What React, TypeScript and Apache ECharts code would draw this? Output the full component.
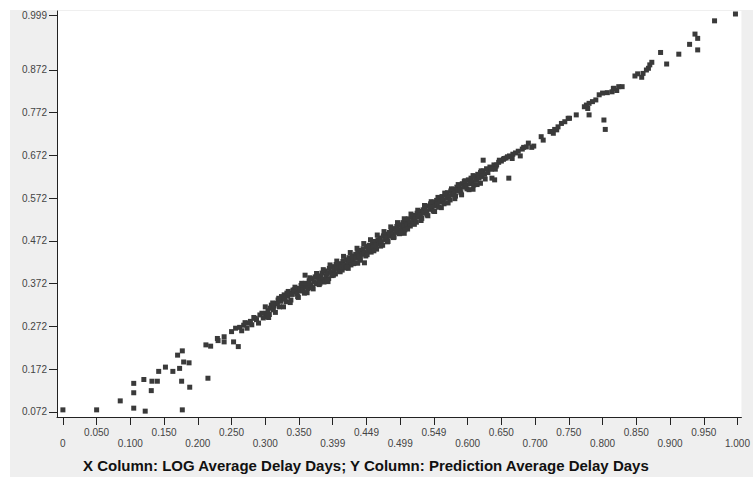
import React, { useEffect, useRef } from "react";
import * as echarts from "echarts";

const titleText = "X Column: LOG Average Delay Days; Y Column: Prediction Average Delay Days";

const xTickValues = [0, 0.05, 0.1, 0.15, 0.2, 0.25, 0.3, 0.35, 0.4, 0.45, 0.5, 0.55, 0.6, 0.65, 0.7, 0.75, 0.8, 0.85, 0.9, 0.95, 1.0];
const xTickLabels = ["0", "0.050", "0.100", "0.150", "0.200", "0.250", "0.300", "0.350", "0.399", "0.449", "0.499", "0.549", "0.600", "0.650", "0.700", "0.750", "0.800", "0.850", "0.900", "0.950", "1.000"];
const yTickValues = [0.072, 0.172, 0.272, 0.372, 0.472, 0.572, 0.672, 0.772, 0.872, 0.999];

const lowPoints: [number, number][] = [
  [0.000, 0.077], [0.050, 0.077], [0.085, 0.098], [0.105, 0.139], [0.105, 0.117], [0.105, 0.081],
  [0.120, 0.148], [0.122, 0.074], [0.132, 0.144], [0.131, 0.122], [0.140, 0.144], [0.142, 0.167],
  [0.152, 0.177], [0.163, 0.167], [0.170, 0.205], [0.173, 0.174], [0.177, 0.215], [0.179, 0.189],
  [0.176, 0.144], [0.177, 0.077], [0.187, 0.187], [0.188, 0.130], [0.212, 0.229], [0.219, 0.226],
  [0.215, 0.151], [0.229, 0.244], [0.230, 0.239], [0.239, 0.248], [0.239, 0.236], [0.250, 0.260],
  [0.253, 0.236], [0.260, 0.225], [0.256, 0.268], [0.268, 0.275], [0.273, 0.268], [0.275, 0.280],
  [0.285, 0.291], [0.290, 0.280], [0.292, 0.299], [0.301, 0.295], [0.301, 0.303], [0.307, 0.315],
  [0.312, 0.311], [0.309, 0.322], [0.316, 0.326], [0.321, 0.318], [0.319, 0.334], [0.326, 0.338],
  [0.331, 0.330], [0.328, 0.346], [0.336, 0.350], [0.338, 0.334], [0.341, 0.357], [0.345, 0.353],
  [0.348, 0.342], [0.350, 0.361], [0.355, 0.365], [0.358, 0.350], [0.359, 0.373],
  [0.262, 0.270], [0.265, 0.262], [0.270, 0.281], [0.278, 0.284], [0.280, 0.276], [0.283, 0.293],
  [0.287, 0.288], [0.295, 0.303], [0.297, 0.292], [0.304, 0.309], [0.306, 0.300], [0.313, 0.320],
  [0.318, 0.325], [0.323, 0.331], [0.324, 0.342], [0.329, 0.336], [0.333, 0.343], [0.334, 0.354],
  [0.340, 0.347], [0.343, 0.358], [0.347, 0.349], [0.351, 0.355], [0.353, 0.368], [0.356, 0.358],
  [0.360, 0.365],
];

const bandPoints: [number, number][] = [
  [0.361, 0.372], [0.363, 0.361], [0.365, 0.379], [0.367, 0.369], [0.369, 0.384], [0.370, 0.363],
  [0.372, 0.377], [0.374, 0.388], [0.375, 0.372], [0.377, 0.391], [0.379, 0.381], [0.380, 0.370],
  [0.382, 0.389], [0.384, 0.397], [0.385, 0.383], [0.387, 0.376], [0.389, 0.402], [0.390, 0.391],
  [0.392, 0.396], [0.394, 0.384], [0.395, 0.408], [0.397, 0.399], [0.399, 0.391], [0.400, 0.412],
  [0.402, 0.403], [0.404, 0.395], [0.405, 0.417], [0.407, 0.408], [0.409, 0.401], [0.410, 0.419],
  [0.412, 0.411], [0.414, 0.404], [0.415, 0.424], [0.417, 0.415], [0.419, 0.409], [0.420, 0.428],
  [0.422, 0.419], [0.424, 0.433], [0.425, 0.423], [0.427, 0.416], [0.429, 0.437], [0.430, 0.428],
  [0.432, 0.421], [0.434, 0.441], [0.435, 0.432], [0.437, 0.446], [0.439, 0.436], [0.440, 0.427],
  [0.442, 0.450], [0.444, 0.441], [0.445, 0.454], [0.447, 0.445], [0.449, 0.437], [0.450, 0.459],
  [0.452, 0.449], [0.454, 0.462], [0.455, 0.453], [0.457, 0.446], [0.459, 0.467], [0.460, 0.457],
  [0.462, 0.471], [0.464, 0.462], [0.465, 0.453], [0.467, 0.475], [0.469, 0.466], [0.470, 0.479],
  [0.472, 0.470], [0.474, 0.462], [0.475, 0.484], [0.477, 0.475], [0.479, 0.488], [0.480, 0.479],
  [0.482, 0.471], [0.484, 0.492], [0.485, 0.483], [0.487, 0.497], [0.489, 0.488], [0.490, 0.480],
  [0.492, 0.501], [0.494, 0.492], [0.495, 0.506], [0.497, 0.497], [0.499, 0.489], [0.500, 0.510],
  [0.502, 0.501], [0.504, 0.515], [0.505, 0.506], [0.507, 0.498], [0.509, 0.519], [0.510, 0.510],
  [0.512, 0.524], [0.514, 0.515], [0.515, 0.507], [0.517, 0.528], [0.519, 0.519], [0.520, 0.532],
  [0.522, 0.524], [0.524, 0.516], [0.525, 0.537], [0.527, 0.528], [0.529, 0.541], [0.530, 0.533],
  [0.532, 0.525], [0.534, 0.545], [0.535, 0.537], [0.537, 0.550], [0.539, 0.541], [0.540, 0.533],
  [0.542, 0.554], [0.544, 0.546], [0.545, 0.559], [0.547, 0.550], [0.549, 0.542], [0.550, 0.563],
  [0.552, 0.554], [0.554, 0.567], [0.555, 0.559], [0.557, 0.551], [0.559, 0.572], [0.560, 0.563],
  [0.562, 0.576], [0.564, 0.567], [0.565, 0.559], [0.567, 0.580], [0.569, 0.572], [0.570, 0.585],
  [0.572, 0.576], [0.574, 0.568], [0.575, 0.589], [0.577, 0.580], [0.579, 0.593], [0.580, 0.585],
  [0.582, 0.577], [0.584, 0.598], [0.585, 0.589], [0.587, 0.602], [0.589, 0.593], [0.590, 0.585],
  [0.592, 0.606], [0.594, 0.598], [0.595, 0.611], [0.597, 0.602], [0.599, 0.594], [0.601, 0.615],
  [0.603, 0.606], [0.605, 0.619], [0.607, 0.611], [0.609, 0.603], [0.611, 0.623], [0.613, 0.615],
  [0.615, 0.628], [0.617, 0.619], [0.619, 0.632], [0.621, 0.623], [0.623, 0.636], [0.625, 0.628],
  [0.628, 0.641], [0.630, 0.632], [0.633, 0.645], [0.636, 0.641], [0.639, 0.650], [0.642, 0.647],
  [0.646, 0.656], [0.650, 0.659], [0.653, 0.663], [0.657, 0.666], [0.662, 0.671], [0.667, 0.675],
  [0.671, 0.678], [0.675, 0.682], [0.681, 0.687], [0.687, 0.692],
  [0.359, 0.392], [0.393, 0.377], [0.423, 0.408], [0.437, 0.420], [0.447, 0.421], [0.506, 0.490],
];

const bandEdgePoints: [number, number][] = [
  [0.300, 0.318], [0.305, 0.293], [0.311, 0.327], [0.315, 0.305], [0.320, 0.338], [0.327, 0.318],
  [0.332, 0.350], [0.337, 0.328], [0.344, 0.364], [0.349, 0.340], [0.354, 0.373], [0.362, 0.351],
  [0.366, 0.386], [0.371, 0.360], [0.376, 0.396], [0.381, 0.373], [0.386, 0.405], [0.391, 0.381],
  [0.396, 0.416], [0.401, 0.392], [0.406, 0.425], [0.411, 0.400], [0.416, 0.436], [0.421, 0.411],
  [0.426, 0.445], [0.431, 0.419], [0.436, 0.455], [0.441, 0.431], [0.446, 0.466], [0.451, 0.440],
  [0.456, 0.475], [0.461, 0.449], [0.466, 0.486], [0.471, 0.460], [0.476, 0.494], [0.481, 0.470],
  [0.486, 0.505], [0.491, 0.481], [0.496, 0.515], [0.501, 0.491], [0.506, 0.524], [0.511, 0.500],
  [0.516, 0.535], [0.521, 0.511], [0.526, 0.544], [0.531, 0.520], [0.536, 0.555], [0.541, 0.531],
  [0.546, 0.564], [0.551, 0.541], [0.556, 0.574], [0.561, 0.550], [0.566, 0.584], [0.571, 0.561],
  [0.576, 0.594], [0.581, 0.571], [0.586, 0.604], [0.591, 0.580], [0.596, 0.613], [0.602, 0.592],
  [0.608, 0.625], [0.614, 0.604], [0.620, 0.636], [0.626, 0.617],
];

const highPoints: [number, number][] = [
  [0.623, 0.661], [0.635, 0.640], [0.636, 0.619], [0.640, 0.615], [0.619, 0.607], [0.661, 0.619],
  [0.608, 0.593], [0.643, 0.650], [0.641, 0.640], [0.647, 0.661], [0.654, 0.665], [0.659, 0.669],
  [0.666, 0.665], [0.678, 0.671], [0.683, 0.691], [0.690, 0.701], [0.695, 0.691], [0.698, 0.694],
  [0.709, 0.716], [0.712, 0.708], [0.722, 0.728], [0.727, 0.724], [0.732, 0.732], [0.734, 0.739],
  [0.739, 0.747], [0.744, 0.751], [0.751, 0.759], [0.761, 0.767], [0.773, 0.786], [0.778, 0.782],
  [0.780, 0.794], [0.785, 0.798], [0.790, 0.802], [0.795, 0.814], [0.800, 0.818], [0.807, 0.819],
  [0.780, 0.767], [0.802, 0.755], [0.804, 0.733], [0.817, 0.829], [0.821, 0.824], [0.824, 0.833],
  [0.829, 0.833], [0.848, 0.858], [0.852, 0.863], [0.858, 0.855], [0.860, 0.864], [0.865, 0.872],
  [0.868, 0.876], [0.870, 0.884], [0.873, 0.890], [0.886, 0.913], [0.895, 0.886], [0.913, 0.909],
  [0.929, 0.932], [0.937, 0.956], [0.941, 0.946], [0.941, 0.919], [0.966, 0.987], [0.997, 1.003],
  [0.749, 0.759], [0.729, 0.733], [0.724, 0.728], [0.814, 0.821], [0.816, 0.829], [0.776, 0.790],
];

const allPoints = [...lowPoints, ...bandPoints, ...bandEdgePoints, ...highPoints];

export default function App() {
  const ref = useRef<HTMLDivElement>(null);
  useEffect(() => {
    if (!ref.current) return;
    const chart = echarts.init(ref.current, undefined, { renderer: "svg" });
    const font = '"Liberation Sans", Arial, sans-serif';
    chart.setOption({
      animation: false,
      backgroundColor: "#ffffff",
      graphic: [
        {
          type: "rect",
          z: -100,
          silent: true,
          shape: { x: 10, y: 10, width: 743, height: 467 },
          style: { fill: "#efefef" },
        },
        {
          type: "text",
          left: 83,
          top: 458,
          z: 10,
          style: { text: titleText, font: `bold 15px ${font}`, fill: "#111" },
        },
      ],
      grid: {
        left: 57,
        right: 0,
        top: 11,
        bottom: 60,
        show: true,
        backgroundColor: "#ffffff",
        borderWidth: 0,
      },
      xAxis: {
        type: "value",
        min: -0.00875,
        max: 1.00583,
        splitLine: { show: false },
        axisLine: { show: true, onZero: false, lineStyle: { color: "#222", width: 1 } },
        axisTick: { show: true, length: 8, customValues: xTickValues, lineStyle: { color: "#222" } },
        axisLabel: {
          customValues: xTickValues,
          margin: 10,
          fontSize: 10,
          lineHeight: 11,
          fontFamily: font,
          color: "#444",
          formatter: (v: number) => {
            const i = Math.round(v * 20);
            const t = xTickLabels[i];
            return i % 2 === 0 ? "\n" + t : t;
          },
        },
      },
      yAxis: {
        type: "value",
        min: 0.0603,
        max: 1.01,
        splitLine: { show: false },
        axisLine: { show: true, onZero: false, lineStyle: { color: "#222", width: 1 } },
        axisTick: { show: true, length: 8, customValues: yTickValues, lineStyle: { color: "#222" } },
        axisLabel: {
          customValues: yTickValues,
          margin: 10,
          fontSize: 10,
          fontFamily: font,
          color: "#444",
          formatter: (v: number) => v.toFixed(3),
        },
      },
      series: [
        {
          type: "scatter",
          data: allPoints,
          symbol: "rect",
          symbolSize: 5,
          itemStyle: { color: "#3a3a3a", opacity: 1 },
        },
      ],
    });
    return () => chart.dispose();
  }, []);
  return (
    <div
      ref={ref}
      style={{ position: "absolute", left: 0, top: 0, width: 753, height: 477 }}
    />
  );
}
